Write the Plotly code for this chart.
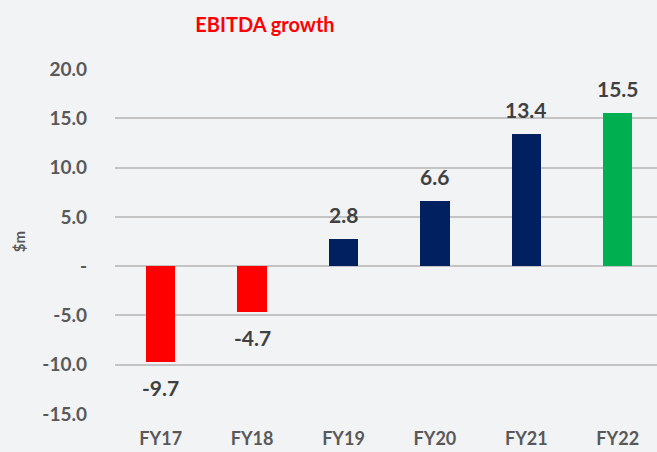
import plotly.graph_objects as go

categories = ["FY17", "FY18", "FY19", "FY20", "FY21", "FY22"]
values = [-9.7, -4.7, 2.8, 6.6, 13.4, 15.5]
colors = ["#ff0000", "#ff0000", "#002060", "#002060", "#002060", "#00b050"]
tick_vals = [-15, -10, -5, 0, 5, 10, 15, 20]
tick_text = ["-15.0", "-10.0", "-5.0", "-", "5.0", "10.0", "15.0", "20.0"]

xs = list(range(len(categories)))
fig = go.Figure(go.Bar(
    x=xs, y=values,
    marker=dict(color=colors, line=dict(width=0)),
    width=0.32,
    cliponaxis=False,
    hoverinfo="skip",
))

for x, v in zip(xs, values):
    fig.add_annotation(
        x=x, y=v, xref="x", yref="y",
        text=f"<b>{v:.1f}</b>", showarrow=False,
        yanchor="bottom" if v >= 0 else "top",
        yshift=10 if v >= 0 else -11,
        font=dict(family="Lato", size=21, color="#404040"),
    )

fig.update_layout(
    width=657, height=452,
    margin=dict(l=115, r=0, t=69, b=38),
    paper_bgcolor="#f2f3f5", plot_bgcolor="#f2f3f5",
    title=dict(text="<b>EBITDA growth</b>", xref="container", x=265 / 657, xanchor="center",
               yref="container", y=0.945, yanchor="middle",
               font=dict(family="Lato", size=20, color="#ff0000")),
    showlegend=False,
    bargap=0,
)
fig.update_xaxes(
    tickmode="array", tickvals=xs, ticktext=categories,
    range=[-0.5, 5.43], showgrid=False, zeroline=False, showline=False,
    tickfont=dict(family="Lato", size=18, color="#595959", weight="bold"),
    ticklabelstandoff=12, automargin=False,
)
fig.update_yaxes(
    range=[-15, 20], tickvals=tick_vals, ticktext=tick_text,
    showgrid=True, gridcolor="#c4c4c4", gridwidth=2, zeroline=False, showline=False,
    tickfont=dict(family="Lato", size=19, color="#595959", weight="bold"),
    ticklabelstandoff=27, automargin=False,
    title=dict(text="$m", font=dict(family="Lato", size=15, color="#595959", weight="bold"), standoff=13),
)

fig.write_html(
    "out.html",
    config={"displayModeBar": False},
    post_script="document.body.style.margin='0';document.body.style.overflow='hidden';"
                "document.body.style.background='#f2f3f5';",
)
